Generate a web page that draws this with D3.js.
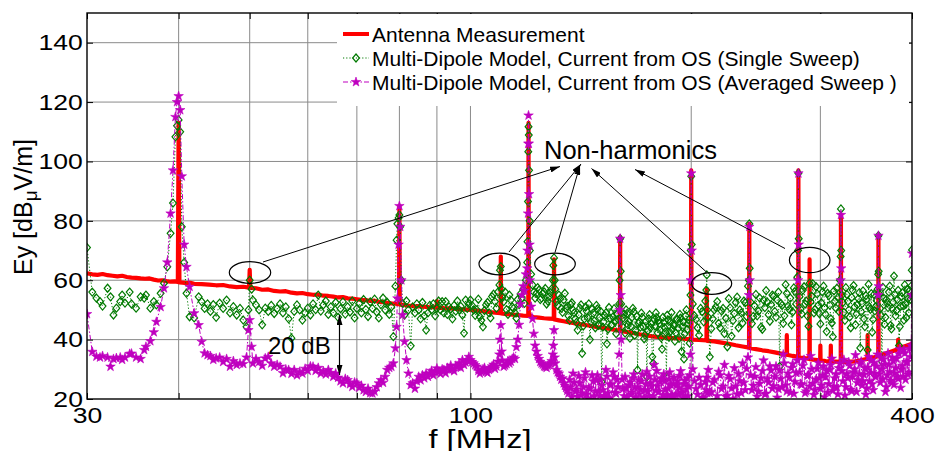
<!DOCTYPE html>
<html>
<head>
<meta charset="utf-8">
<script src="https://cdn.jsdelivr.net/npm/d3@7"></script>
<style>
  body { margin: 0; background: #fff; }
  svg text { font-family: Arial, "Liberation Sans", Helvetica, sans-serif; fill: #000; }
</style>
</head>
<body>
<svg id="chart" width="935" height="451"></svg>
<script>
// ---- Axis ticks and labels ----
const yTickValues = [20, 40, 60, 80, 100, 120, 140];
const xTickValues = [30, 40, 50, 60, 70, 80, 90, 100, 200, 300, 400];
const xTickLabels = [30, 100, 400];
const xGridValues = [40, 50, 60, 70, 80, 90, 100, 200, 300];
const yGridValues = [40, 60, 80, 100, 120, 140];
const seriesNames = [
  "Antenna Measurement",
  "Multi-Dipole Model, Current from OS (Single Sweep)",
  "Multi-Dipole Model, Current from OS (Averaged Sweep )"
];

// ---- Antenna measurement (MHz, dBuV/m) ----
const measFreq = [
  30, 30.5, 31, 31.5, 32, 32.5, 33, 33.5, 34, 34.5, 35, 35.5, 36, 36.5, 37, 37.5, 38, 38.5, 39, 39.5, 39.9, 40, 40.1,
  40.5, 41, 41.5, 42, 43, 44, 45, 46, 47, 48, 49, 49.9, 50, 50.1,
  51, 52, 53, 54, 55, 56, 57, 58, 59, 60, 61, 62, 63, 64, 65, 66, 67, 68, 69, 70,
  71, 72, 73, 74, 75, 76, 77, 78, 79, 79.9, 80, 80.1,
  81, 82, 83, 84, 85, 86, 87, 88, 89, 89.9, 90, 90.1,
  92, 94, 96, 98, 100, 102, 104, 106, 108, 109.9, 110, 110.1,
  112, 114, 116, 118, 119.9, 120, 120.1, 121, 122, 124, 126, 128, 129.9, 130, 130.1,
  132, 134, 136, 138, 140, 143, 146, 149, 152, 155, 158, 159.9, 160, 160.1,
  163, 166, 170, 174, 178, 182, 186, 190, 195, 199.8, 200, 200.2,
  205, 209.8, 210, 210.2, 215, 220, 225, 230, 235, 239.8, 240, 240.2,
  245, 250, 255, 260, 265, 269.8, 270, 270.2, 275, 279.8, 280, 280.2,
  285, 289.8, 290, 290.2, 295, 299.8, 300, 300.2, 305, 309.8, 310, 310.2,
  315, 319.8, 320, 320.2, 325, 330, 335, 340, 344, 347.8, 348, 348.2,
  353, 359.8, 360, 360.2, 365, 370, 375, 380, 382.8, 383, 383.2, 388, 394, 400
];
const measDb = [
  62.3, 62, 61.8, 62.1, 61.7, 61.5, 61.3, 61.5, 61.1, 60.9, 60.8, 60.6, 60.5, 60.6, 60.2, 59.9, 60, 59.7, 59.5, 59.6, 59.4, 113, 59.3,
  59.2, 59, 59.1, 58.8, 58.7, 58.5, 58.3, 58.4, 57.9, 57.7, 57.8, 57.5, 63.5, 57.4,
  57.3, 56.8, 56.9, 56.4, 56.2, 56.3, 55.8, 55.6, 55.7, 55.3, 55.1, 55.2, 54.8, 54.7, 54.5, 54.2, 54.3, 53.9, 53.8, 53.6,
  53.4, 53.3, 53, 53.1, 52.7, 52.6, 52.4, 52.2, 52.1, 51.9, 85, 51.8,
  51.7, 51.5, 51.4, 51.2, 51.3, 51.1, 51, 50.9, 50.9, 50.8, 53, 50.8,
  50.6, 50.5, 50.3, 50.2, 50, 49.8, 49.6, 49.3, 49.1, 48.9, 68, 48.8,
  48.6, 48.4, 48.3, 48.1, 48, 113, 48.6, 47.8, 47.6, 47.4, 47.2, 47.1, 47, 67, 46.8,
  46.5, 46.2, 45.9, 45.6, 45.3, 45, 44.6, 44.2, 43.9, 43.6, 43.2, 43, 74.5, 42.9,
  42.6, 42.3, 41.8, 41.4, 41, 40.8, 40.6, 40.5, 40.3, 40.1, 97, 40,
  39.9, 39.7, 57, 39.6, 39.4, 39, 38.6, 38.1, 37.7, 37.3, 79, 37.2,
  36.8, 36.4, 36.1, 35.7, 35.3, 34.9, 41.5, 34.9, 34.5, 34.2, 97, 34.1,
  33.8, 33.5, 67, 33.4, 33.2, 33, 38, 33, 32.8, 32.7, 38, 32.7,
  32.6, 32.5, 82, 32.5, 32.5, 32.6, 32.7, 33, 33.3, 33.5, 41.5, 33.6,
  33.9, 34.4, 75, 34.5, 35, 35.5, 36, 36.5, 36.9, 40, 37, 37.5, 38, 38.6
];

// ---- Multi-dipole model: main sweep frequencies (MHz) ----
const modelFreq = [
  30, 30.5, 30.9, 31.25, 31.5, 32, 32.3, 32.6, 32.9, 33.3, 33.5, 33.8,
  34.3, 34.5, 35, 35.5, 35.9, 36.1, 36.6, 37, 37.3, 37.8,
  38.2, 38.6, 39, 39.3, 39.6, 39.8, 40, 40.2, 40.4, 40.7,
  41, 41.4, 42, 42.6, 43, 43.4, 43.8, 44.2, 44.6, 45,
  45.5, 46, 46.5, 47, 47.5, 48, 48.5, 49, 49.5, 49.8, 50, 50.3,
  50.5, 51, 51.5, 52, 52.5, 53, 53.5, 54, 54.5, 55,
  55.5, 56, 56.5, 57, 57.5, 58, 58.5, 59, 59.5, 60,
  60.5, 61, 61.5, 62, 62.5, 63, 63.5, 64, 64.5, 65,
  65.5, 66, 66.5, 67, 67.5, 68, 68.5, 69, 69.5, 70,
  70.5, 71, 71.5, 72, 72.5, 73, 73.5, 74, 74.5, 75,
  75.5, 76, 76.5, 77, 77.5, 78, 78.5, 79, 79.3, 79.5, 79.8, 80, 80.2, 80.5,
  80.8, 81.3, 81.8, 82.3, 82.9, 83.4, 84, 84.5, 85,
  85.5, 86, 86.5, 87, 87.5, 88, 88.5, 89, 89.5, 90,
  90.5, 91, 91.5, 92, 92.5, 93, 93.5, 94, 94.5, 95,
  95.5, 96, 96.5, 97, 97.5, 98, 98.5, 99, 99.5, 100,
  101, 102, 103, 104, 105, 106, 107, 108, 109,
  109.7, 110, 110.3, 111, 112, 113, 114, 115, 116, 117, 118,
  119, 119.6, 119.8, 119.9, 120, 120.1, 120.2, 120.4, 121,
  122, 123, 124, 125, 126, 127, 128, 129,
  129.7, 130, 130.3, 131, 132, 133, 134, 135, 136, 137, 138, 139, 140,
  141, 142, 143, 144, 145, 146, 147, 148, 149, 150,
  151, 152, 153, 154, 155, 156, 157, 158, 159,
  159.7, 160, 160.3, 161, 162, 163, 164, 165, 166, 167, 168, 169, 170,
  171, 172, 173, 174, 175, 176, 177, 178, 179, 180,
  181, 182, 183, 184, 185, 186, 187, 188, 189, 190,
  191, 192, 193, 194, 195, 196, 197, 198, 199, 199.7, 200, 200.3,
  202, 204, 206, 208, 209.7, 210, 210.3, 212, 214, 216, 218, 220,
  222, 224, 226, 228, 230, 232, 234, 236, 238, 239.7, 240, 240.3,
  242, 244, 246, 248, 250, 252, 254, 256, 258, 260,
  262, 264, 266, 268, 270, 272, 274, 276, 278, 279.7, 280, 280.3,
  282, 284, 286, 288, 290, 292, 294, 296, 298, 300,
  302, 304, 306, 308, 310, 312, 314, 316, 318, 319.7, 320, 320.3,
  322, 324, 326, 328, 330, 332, 334, 336, 338, 340,
  342, 344, 346, 348, 350, 352, 354, 356, 358, 359.7, 360, 360.3,
  362, 364, 366, 368, 370, 372, 374, 376, 378, 380,
  382, 384, 386, 388, 390, 392, 394, 396, 398, 399.7, 400
];

// ---- Single sweep (dBuV/m), at modelFreq ----
const singleSweepDb = [
  71, 56, 54, 52.8, 51.3, 57.3, 54.4, 48.3, 50.6, 52.8, 55, 52.3,
  56, 52, 50.6, 54.4, 54, 55, 50.6, 52.8, 51.7, 55.6,
  59, 64.5, 75.8, 86, 108.3, 112, 114, 110, 78, 66,
  55.6, 47.7, 47.3, 54.4, 52.8, 50.5, 52, 49.5, 51.8, 47.5,
  52.3, 50.5, 53.3, 49, 51.1, 48.3, 50.5, 46.6, 44.3, 50, 60, 57,
  53.3, 51.7, 50, 45, 50.6, 49.5, 51.5, 48.8, 50.4, 52,
  49, 51, 47, 40.5, 49.5, 51.7, 50, 46.6, 49, 50.6,
  48.3, 52, 50.1, 55, 49.6, 51.7, 53, 48.5, 51, 49,
  52.5, 47.5, 50.4, 52.7, 48.6, 51, 49.3, 53, 47.3, 50.5,
  52.1, 49, 53.5, 50.2, 47.8, 52.7, 50.5, 53.6, 49.3, 47.3,
  51.8, 54, 50, 52.5, 48.5, 51, 41, 58, 73.5, 79, 81, 82, 78, 60,
  52.2, 48.3, 53, 50, 37.9, 51, 49, 52, 50,
  47, 52.5, 48, 43.2, 49, 51.5, 50, 52, 48, 50.5,
  53, 50, 52.8, 49, 52.8, 48.5, 51, 50.3, 47, 51.5,
  49.6, 53, 50, 51.2, 48.3, 42.2, 53.3, 50.5, 52, 53.3,
  50, 50, 47.7, 44.3, 51.7, 49, 54.5, 52.8, 56,
  63.4, 64.6, 57, 52.8, 50.1, 55, 51, 49, 53.5, 55.4, 57,
  60, 73, 86.5, 103.3, 111.7, 108.9, 97, 80, 62,
  56, 55.6, 56.7, 54, 56.1, 52, 54.5, 57,
  65, 67.5, 60, 52.8, 55, 50.5, 53.4, 50.5, 48, 51.8, 50, 47, 43.2,
  50.6, 35.4, 47, 49.6, 52, 46, 48.9, 44, 50.3, 47.5,
  25.8, 46, 49, 43.5, 47.2, 45, 50.4, 42, 46.8,
  60, 74, 63, 44.5, 48.6, 50, 45, 40.5, 47.5, 49.3, 43, 29.8, 46,
  48.9, 44.3, 41.6, 27.5, 47, 44, 34.2, 46.8, 49, 42.3,
  45.4, 40.6, 47.5, 44, 27.5, 46.6, 42.5, 49.1, 45, 39.5,
  47, 43.8, 48.5, 36, 46, 42, 50, 45.5, 38.8, 70, 95, 72,
  48, 44, 50.5, 46, 56.7, 61.8, 50, 34.2, 47, 51, 45.5, 49.6,
  42, 37.6, 50.7, 46.4, 52.5, 44, 49, 53, 47.8, 60, 79, 64,
  45.4, 51.4, 48, 54, 43.5, 50.8, 52.6, 46.2, 55, 49.5,
  53.4, 31, 51.5, 48, 55.6, 50.2, 45, 57.4, 52, 70, 96, 74,
  50.3, 56.7, 52, 48, 59, 54.6, 49, 57.8, 51.5, 45.3,
  56, 50.7, 42.7, 54.8, 47, 41, 53, 57.3, 49.5, 68, 84, 70,
  52.5, 46.5, 55.2, 50, 44, 56.7, 51, 48.6, 53.8, 37.2,
  52.2, 47, 54.8, 36.5, 51, 55.5, 46.8, 49.7, 53.2, 62, 75, 63,
  50.5, 32.6, 54, 47.5, 52.3, 56, 44.8, 50.4, 61.4, 48,
  53.5, 38, 51.2, 55.8, 46.6, 52, 57, 49, 53.6, 63.4, 70.2
];

// ---- Averaged sweep (dBuV/m), at modelFreq ----
const averagedSweepDb = [
  48.6, 35.9, 34.3, 34, 34.5, 34, 30.9, 33.5, 33.8, 34, 33.2, 34,
  35.2, 35.3, 34, 33.5, 36.5, 37.6, 39.5, 42.5, 46, 51,
  57.3, 66, 82.5, 97, 115, 120, 122, 117.3, 95, 72,
  64.5, 57.8, 48.9, 44.9, 39.3, 35.4, 34.8, 34.5, 33.2, 33.7,
  34, 32.5, 33.5, 30.9, 32.8, 31.5, 32, 31.8, 34, 43.2, 46.6, 37.6,
  32, 33.5, 32.5, 31.2, 33.7, 34.2, 32, 30.9, 31.5, 30.9,
  28.7, 30, 29.8, 28.5, 29.8, 28, 29.2, 28.6, 30.2, 29.5,
  31, 30.9, 29.5, 30.5, 28.6, 29.4, 28.3, 29.8, 28.8, 27.5,
  28.6, 27.2, 26, 25.3, 26.8, 26.4, 25, 24.1, 25.6, 25.3,
  23.8, 24.5, 23, 22.4, 23.5, 22, 21.9, 22.5, 24, 25.3,
  26.4, 25.5, 27.5, 29.8, 30.5, 30.9, 32, 37.1, 44.3, 53.9, 72, 85, 78, 60,
  48.3, 39.3, 33.1, 28.6, 24.7, 25.3, 23.5, 26, 27.5,
  26.3, 28, 27, 28.6, 27.5, 28.6, 29.5, 28, 29.2, 30.3,
  29.2, 28.5, 30, 29.8, 28.7, 30.5, 29.8, 31.3, 30, 29.4,
  31.2, 30.9, 32, 30.5, 33.1, 31.5, 32.3, 33.1, 34.2, 33.1,
  32, 30.9, 28.6, 30, 29.2, 29.8, 31, 30.2, 32.6,
  40, 44.9, 36, 30.9, 31.8, 32, 33.5, 33.5, 40, 52, 58,
  62, 70, 82.5, 106, 115.5, 106, 89, 72, 51.1,
  42, 36, 33.5, 32, 31, 30.5, 31.5, 32.8,
  38, 43.2, 34, 29.8, 28.6, 26.5, 25.3, 23.8, 21.9, 24, 28.6, 22.5, 20.8,
  25.3, 22, 27, 21.5, 23.8, 19.5, 26, 22.6, 28, 21,
  24.5, 20.5, 29.8, 22, 25, 19, 27.4, 21.8, 24,
  50, 74, 55, 26.5, 21, 23.6, 19.5, 25.6, 22.2, 28.3, 20.5, 24, 21.7,
  26, 19.8, 23, 29.2, 21, 25.4, 20.2, 31.5, 22.8, 24.4,
  19.5, 27, 21.3, 26, 20.6, 23.5, 29, 21.2, 25, 19.8,
  24.6, 21.6, 27.8, 22.3, 20.4, 26.2, 23.3, 21, 28, 60, 96, 70,
  26, 21.5, 24.8, 20.3, 23, 27.2, 22, 22, 25.6, 19.6, 29.2, 23.4,
  31.5, 21.2, 26.7, 20, 24.3, 28.5, 22, 25.5, 30.2, 55, 78, 60,
  23, 27.6, 20.8, 25.2, 29.4, 21.6, 26.8, 31, 23.5, 27.5,
  20.5, 29.6, 24, 32, 22.6, 27.2, 30.5, 21.8, 28.8, 60, 96, 72,
  25, 31.2, 22, 27.8, 24.2, 30, 21.4, 26.6, 32.2, 23.5,
  28, 20.7, 29.5, 25, 31.5, 22.8, 27, 24, 30.4, 60, 82, 64,
  26, 21.2, 28.5, 32.4, 23.2, 27.5, 30, 22.4, 26.4, 31.8,
  24.6, 28.2, 21.5, 30.6, 26, 33, 23, 28.6, 31, 55, 75, 58,
  25.5, 30, 33.4, 22.4, 28, 31.6, 26.2, 34, 24.8, 30.5,
  27.4, 35.2, 23.8, 31.2, 36.5, 26.5, 32.5, 29, 34.2, 55, 69
];

// ---- Multi-dipole model: in-between sweep points above 100 MHz ----
const fillFreq = [
  100.5, 101.5, 102.5, 103.5, 104.5, 105.5, 106.5, 107.5, 108.5, 109.5,
  110.5, 111.5, 112.5, 113.5, 114.5, 115.5, 116.5, 117.5, 118.5, 119.5,
  120.5, 121.5, 122.5, 123.5, 124.5, 125.5, 126.5, 127.5, 128.5, 129.5,
  130.5, 131.5, 132.5, 133.5, 134.5, 135.5, 136.5, 137.5, 138.5, 139.5,
  140.5, 141.5, 142.5, 143.5, 144.5, 145.5, 146.5, 147.5, 148.5, 149.5,
  150.5, 151.5, 152.5, 153.5, 154.5, 155.5, 156.5, 157.5, 158.5, 159.5,
  160.5, 161.5, 162.5, 163.5, 164.5, 165.5, 166.5, 167.5, 168.5, 169.5,
  170.5, 171.5, 172.5, 173.5, 174.5, 175.5, 176.5, 177.5, 178.5, 179.5,
  180.5, 181.5, 182.5, 183.5, 184.5, 185.5, 186.5, 187.5, 188.5, 189.5,
  190.5, 191.5, 192.5, 193.5, 194.5, 195.5, 196.5, 197.5, 198.5, 199.5,
  201, 203, 205, 207, 209, 211, 213, 215, 217, 219,
  221, 223, 225, 227, 229, 231, 233, 235, 237, 239,
  241, 243, 245, 247, 249, 251, 253, 255, 257, 259,
  261, 263, 265, 267, 269, 271, 273, 275, 277, 279,
  281, 283, 285, 287, 289, 291, 293, 295, 297, 299,
  301, 303, 305, 307, 309, 311, 313, 315, 317, 319,
  321, 323, 325, 327, 329, 331, 333, 335, 337, 339,
  341, 343, 345, 347, 349, 351, 353, 355, 357, 359,
  361, 363, 365, 367, 369, 371, 373, 375, 377, 379,
  381, 383, 385, 387, 389, 391, 393, 395, 397, 399
];
const fillSingleDb = [
  51.5, 48.2, 53.6, 46.5, 49.8, 52.5, 47.3, 55.3, 50.6, 58.4,
  54.2, 56, 48.5, 53.3, 50.5, 47.2, 51.8, 54, 52.2, 66,
  70, 58.4, 54, 57.5, 53.5, 55.4, 57.2, 53, 55.8, 60,
  57, 51.5, 53.8, 49.2, 55.6, 51.2, 46.5, 52.4, 49, 45.8,
  48.4, 51.7, 44.6, 51, 47.4, 40, 50.2, 46.3, 51.5, 44.8,
  49.5, 44.2, 48.1, 38.6, 50.8, 44.8, 47.7, 46.2, 48.5, 52,
  52, 47.3, 42.2, 48.8, 46, 44.5, 50.5, 41.5, 47.8, 45.5,
  44.2, 47.5, 40.3, 46.2, 43, 48.4, 45.3, 32, 44.6, 47.4,
  46.5, 43.2, 36.8, 45.8, 42.6, 48.2, 40.8, 46, 43.5, 44.7,
  42.3, 46.8, 40.4, 47.2, 44.3, 33.5, 48, 43.4, 46.7, 55,
  52, 46.8, 41.5, 49.4, 53, 47.5, 43.7, 50, 52.8, 44,
  50.5, 47.2, 53.8, 41.2, 48.8, 54.3, 50, 45.6, 52.4, 58,
  52.6, 47.8, 55.2, 49.6, 44.2, 53.3, 56.5, 48.4, 51.8, 54.6,
  47.6, 56, 52.2, 45.5, 58.5, 51.3, 54, 49.3, 56.2, 61,
  54.5, 48.7, 57.8, 53, 44.5, 52.7, 58.8, 50.2, 55.4, 48.8,
  52.4, 58, 48.5, 55.6, 51.6, 45.6, 56.4, 50.6, 54.2, 60,
  55, 49.2, 57.5, 52.8, 47.6, 54.2, 58.2, 45, 51.8, 55.8,
  49.4, 56.4, 44.4, 53.6, 58.6, 50.2, 42.5, 55.2, 51, 57,
  55.4, 48.2, 57.6, 45.2, 53.5, 50.8, 58, 43.6, 52.6, 55.2,
  49.8, 56.6, 44.4, 54.4, 51.4, 58.4, 47.4, 53.8, 56.5, 58
];
const fillAveragedDb = [
  32.5, 31.4, 29.5, 29.2, 30.5, 28.8, 30.4, 31.6, 31, 35,
  33, 31.3, 32.8, 32.6, 34, 37.5, 45, 55, 56.5, 64,
  60, 47, 38, 34.5, 32.5, 31.6, 30.8, 31.2, 32, 35,
  32, 29, 27.5, 27, 24.5, 22.8, 26.5, 20.6, 25.6, 23.2,
  27.8, 21.2, 24, 29, 20.2, 23.4, 28, 20.8, 26.3, 22.6,
  26.5, 23, 21, 27.6, 20.3, 24.8, 29, 22.2, 26.5, 35,
  40, 23.4, 27.5, 20.7, 24.6, 21.5, 27, 23.8, 20, 26.4,
  23.2, 28.3, 20.5, 25, 22.5, 27.6, 24.2, 21, 26.5, 29.5,
  22.5, 25.8, 20.2, 28.4, 23.2, 21.4, 26.6, 24.8, 20.7, 27.2,
  21.5, 26, 23.8, 29.4, 22, 25, 20.6, 27, 24.2, 35,
  30, 23.4, 27.2, 20.5, 25.8, 29.8, 22.4, 26.5, 21, 28,
  24.2, 20.8, 27.8, 23.6, 30.4, 21.6, 26, 32, 23, 34,
  28, 24.5, 30.8, 22.5, 27, 33, 21.8, 25.6, 29.6, 24.4,
  31, 23.4, 26.8, 35, 24.6, 28.6, 22.2, 31.8, 25.8, 33,
  29, 24.8, 33.2, 22.6, 28.2, 34.5, 25.2, 23, 30.2, 27,
  24.6, 31, 27.4, 22.2, 29.8, 33.6, 24.2, 28.4, 21.6, 32,
  29.4, 33.2, 24, 27, 31.2, 22.6, 29, 34.8, 25.4, 28.4,
  32.6, 26, 30.4, 23.6, 34.2, 28.8, 25, 32.2, 27.4, 35,
  28.4, 33.8, 26.6, 31.6, 24, 35.4, 29.2, 25.4, 32.8, 28.6,
  33.6, 26.8, 36.8, 30, 27.6, 35.4, 32.4, 28.2, 37, 38
];

// ---- Layout ----
const W = 935, H = 451;
const plot = { left: 87, right: 912, top: 13, bottom: 399 };
const colors = { meas: "#ff0000", single: "#007a00", avg: "#bf00bf", grid: "#8a8a8a" };
const axisStretch = 1.18; // axis text is drawn slightly wide

const svg = d3.select("#chart");
const x = d3.scaleLog().domain([30, 400]).range([plot.left, plot.right]);
const y = d3.scaleLinear().domain([20, 150]).range([plot.bottom, plot.top]);

svg.append("rect").attr("width", W).attr("height", H).attr("fill", "#fff");

const defs = svg.append("defs");
defs.append("clipPath").attr("id", "plotClip")
  .append("rect")
  .attr("x", plot.left).attr("y", plot.top)
  .attr("width", plot.right - plot.left).attr("height", plot.bottom - plot.top);
defs.append("marker")
  .attr("id", "arrowHead")
  .attr("viewBox", "0 0 10 6")
  .attr("refX", 10).attr("refY", 3)
  .attr("markerWidth", 10).attr("markerHeight", 6)
  .attr("markerUnits", "userSpaceOnUse")
  .attr("orient", "auto-start-reverse")
  .append("path").attr("d", "M0,0 L10,3 L0,6 Z").attr("fill", "#000");

// Grid
const grid = svg.append("g");
grid.selectAll("line.gx").data(xGridValues).join("line")
  .attr("x1", d => x(d)).attr("x2", d => x(d))
  .attr("y1", plot.top).attr("y2", plot.bottom)
  .attr("stroke", colors.grid).attr("stroke-width", 1);
grid.selectAll("line.gy").data(yGridValues).join("line")
  .attr("x1", plot.left).attr("x2", plot.right)
  .attr("y1", d => y(d)).attr("y2", d => y(d))
  .attr("stroke", colors.grid).attr("stroke-width", 1);

// Data
const dataLayer = svg.append("g").attr("clip-path", "url(#plotClip)");

const measPts = measFreq.map((f, i) => ({ f, v: measDb[i] }));
const singlePts = modelFreq.map((f, i) => ({ f, v: singleSweepDb[i] }))
  .concat(fillFreq.map((f, i) => ({ f, v: fillSingleDb[i] })))
  .filter(d => d.v !== undefined)
  .sort((a, b) => a.f - b.f);
const avgPts = modelFreq.map((f, i) => ({ f, v: averagedSweepDb[i] }))
  .concat(fillFreq.map((f, i) => ({ f, v: fillAveragedDb[i] })))
  .filter(d => d.v !== undefined)
  .sort((a, b) => a.f - b.f);

const line = d3.line().x(d => x(d.f)).y(d => y(d.v));

dataLayer.append("path").datum(measPts)
  .attr("d", line).attr("fill", "none")
  .attr("stroke", colors.meas).attr("stroke-width", 4.2)
  .attr("stroke-linejoin", "round").attr("stroke-linecap", "butt");

dataLayer.append("path").datum(singlePts)
  .attr("d", line).attr("fill", "none")
  .attr("stroke", colors.single).attr("stroke-width", 1)
  .attr("stroke-dasharray", "1.2,2");

const diamond = "M0,-4L3.4,0L0,4L-3.4,0Z";
dataLayer.append("g").selectAll("path").data(singlePts).join("path")
  .attr("transform", d => `translate(${x(d.f)},${y(d.v)})`)
  .attr("d", diamond).attr("fill", "none")
  .attr("stroke", colors.single).attr("stroke-width", 1.2);

dataLayer.append("path").datum(avgPts)
  .attr("d", line).attr("fill", "none")
  .attr("stroke", colors.avg).attr("stroke-width", 1)
  .attr("stroke-dasharray", "5,2,1.5,2");

const star = d3.symbol(d3.symbolStar, 28)();
dataLayer.append("g").selectAll("path").data(avgPts).join("path")
  .attr("transform", d => `translate(${x(d.f)},${y(d.v)})`)
  .attr("d", star).attr("fill", colors.avg).attr("stroke", colors.avg).attr("stroke-width", 0.6);

// Axes (inward ticks on all four sides)
const fmtX = d => xTickLabels.includes(d) ? String(d) : "";
const axB = svg.append("g").attr("transform", `translate(0,${plot.bottom})`)
  .call(d3.axisBottom(x).tickValues(xTickValues).tickFormat(fmtX).tickSizeInner(-6).tickSizeOuter(0).tickPadding(8));
const axT = svg.append("g").attr("transform", `translate(0,${plot.top})`)
  .call(d3.axisTop(x).tickValues(xTickValues).tickFormat("").tickSizeInner(-6).tickSizeOuter(0));
const axL = svg.append("g").attr("transform", `translate(${plot.left},0)`)
  .call(d3.axisLeft(y).tickValues(yTickValues).tickSizeInner(-6).tickSizeOuter(0).tickPadding(3.5));
const axR = svg.append("g").attr("transform", `translate(${plot.right},0)`)
  .call(d3.axisRight(y).tickValues(yTickValues).tickFormat("").tickSizeInner(-6).tickSizeOuter(0));
[axB, axT, axL, axR].forEach(g => {
  g.select(".domain").remove();
  g.selectAll(".tick line").attr("stroke", "#000").attr("stroke-width", 1);
  g.selectAll(".tick text")
    .attr("font-size", 22.5)
    .attr("font-family", "Arial, 'Liberation Sans', sans-serif")
    .attr("fill", "#000")
    .attr("transform", `scale(${axisStretch},1)`);
});

svg.append("rect")
  .attr("x", plot.left).attr("y", plot.top)
  .attr("width", plot.right - plot.left).attr("height", plot.bottom - plot.top)
  .attr("fill", "none").attr("stroke", "#000").attr("stroke-width", 1.4);

// Axis titles
svg.append("text")
  .attr("transform", `translate(480,448) scale(1.25,1)`)
  .attr("text-anchor", "middle").attr("font-size", 26)
  .text("f [MHz]");

const yTitle = svg.append("text")
  .attr("transform", "translate(32,207) rotate(-90)")
  .attr("text-anchor", "middle").attr("font-size", 25);
yTitle.append("tspan").text("Ey [dB");
yTitle.append("tspan").attr("font-size", 19).attr("dy", 5).text("\u03bc");
yTitle.append("tspan").attr("dy", -5).text("V/m]");

// Legend
const lg = svg.append("g");
lg.append("rect").attr("x", 337).attr("y", 14).attr("width", 572).attr("height", 92).attr("fill", "#fff");
const rowsY = [34, 58, 82];
const sx0 = 343, sx1 = 369, sxm = 356;
lg.append("line").attr("x1", sx0).attr("x2", sx1).attr("y1", rowsY[0]).attr("y2", rowsY[0])
  .attr("stroke", colors.meas).attr("stroke-width", 4);
lg.append("line").attr("x1", sx0).attr("x2", sx1).attr("y1", rowsY[1]).attr("y2", rowsY[1])
  .attr("stroke", colors.single).attr("stroke-width", 1).attr("stroke-dasharray", "1.2,2");
lg.append("path").attr("transform", `translate(${sxm},${rowsY[1]})`).attr("d", diamond)
  .attr("fill", "none").attr("stroke", colors.single).attr("stroke-width", 1.2);
lg.append("line").attr("x1", sx0).attr("x2", sx1).attr("y1", rowsY[2]).attr("y2", rowsY[2])
  .attr("stroke", colors.avg).attr("stroke-width", 1).attr("stroke-dasharray", "5,2,1.5,2");
lg.append("path").attr("transform", `translate(${sxm},${rowsY[2]})`).attr("d", star)
  .attr("fill", colors.avg).attr("stroke", colors.avg).attr("stroke-width", 0.6);
lg.selectAll("text.lt").data(seriesNames).join("text")
  .attr("x", 372).attr("y", (d, i) => rowsY[i] + 7.5)
  .attr("font-size", 21).text(d => d);

// Annotations
const ann = svg.append("g");
const ellipses = [
  { cx: 250, cy: 272.5, rx: 20.7, ry: 10.8 },
  { cx: 499.5, cy: 264, rx: 20.5, ry: 10.8 },
  { cx: 555, cy: 264, rx: 20.3, ry: 10.8 },
  { cx: 711.7, cy: 283.5, rx: 20, ry: 10.8 },
  { cx: 809.7, cy: 260, rx: 20.3, ry: 12.6 }
];
ann.selectAll("ellipse").data(ellipses).join("ellipse")
  .attr("cx", d => d.cx).attr("cy", d => d.cy).attr("rx", d => d.rx).attr("ry", d => d.ry)
  .attr("fill", "none").attr("stroke", "#000").attr("stroke-width", 1.2);
const pointers = [
  { x1: 263, y1: 262, x2: 560, y2: 166.5 },
  { x1: 509, y1: 252, x2: 581, y2: 164 },
  { x1: 555, y1: 252.5, x2: 580, y2: 165 },
  { x1: 707, y1: 272.5, x2: 591.5, y2: 168.5 },
  { x1: 785, y1: 248.5, x2: 635, y2: 169.5 }
];
ann.selectAll("line.ptr").data(pointers).join("line")
  .attr("x1", d => d.x1).attr("y1", d => d.y1).attr("x2", d => d.x2).attr("y2", d => d.y2)
  .attr("stroke", "#000").attr("stroke-width", 1)
  .attr("marker-end", "url(#arrowHead)");
ann.append("text").attr("x", 544).attr("y", 158.5).attr("font-size", 25.5).text("Non-harmonics");

ann.append("text").attr("x", 268).attr("y", 354).attr("font-size", 24).text("20 dB");
ann.append("line")
  .attr("x1", 339.5).attr("y1", 315).attr("x2", 339.5).attr("y2", 375)
  .attr("stroke", "#000").attr("stroke-width", 1.2)
  .attr("marker-start", "url(#arrowHead)").attr("marker-end", "url(#arrowHead)");
</script>
</body>
</html>
